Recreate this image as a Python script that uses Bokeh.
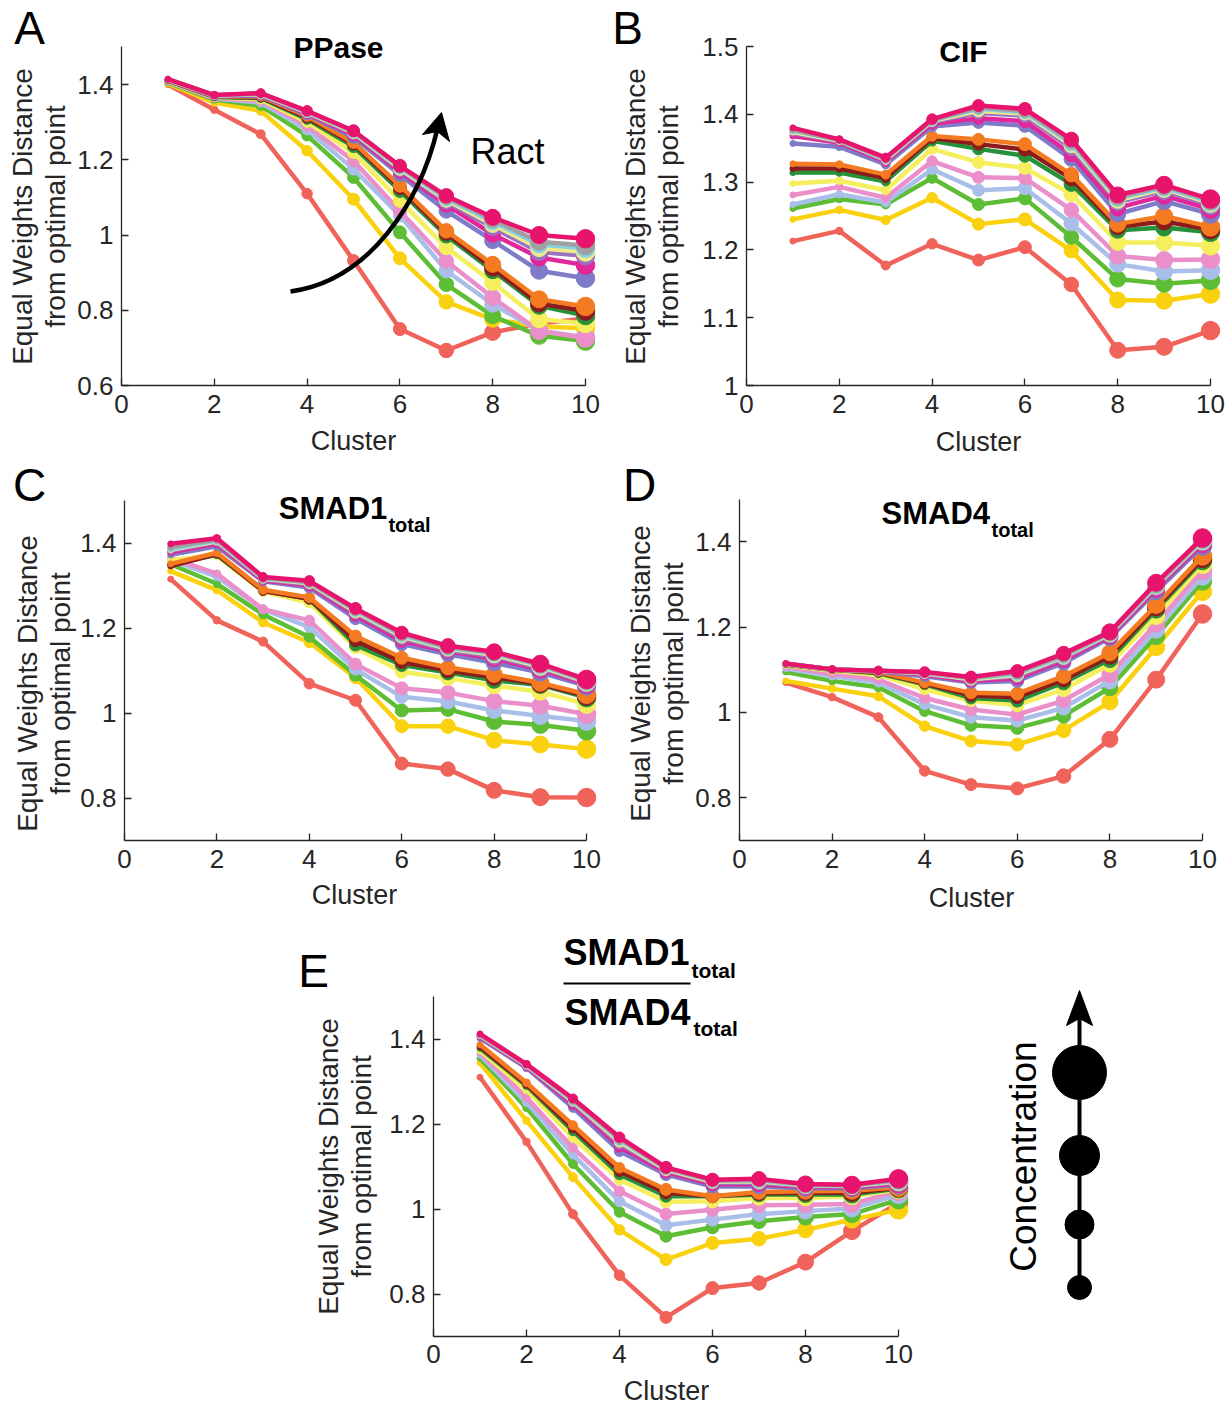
import math
from bokeh.plotting import figure
from bokeh.models import (Range1d, FixedTicker, CustomJSTickFormatter, Label,
                          Arrow, ColumnDataSource, Spacer)
from bokeh.layouts import row, column
from bokeh.embed import file_html
from bokeh.resources import INLINE

# ---------------- data ----------------
CLUSTERS = [1, 2, 3, 4, 5, 6, 7, 8, 9, 10]
X_TICKS = [0, 2, 4, 6, 8, 10]

# one colour per Ract level (low -> high)
COLORS = ["#F0635A", "#F9D10F", "#5DBE35", "#A9BEE8", "#EB8FCB", "#F5EF5E",
          "#25913A", "#8C1C1C", "#F47B21", "#7E7BC8", "#E2279B", "#9A72C0",
          "#F2E98C", "#86D2E3", "#A0A0A0", "#E8136C"]

PPASE = [
    [1.400, 1.333, 1.268, 1.110, 0.932, 0.750, 0.693, 0.741, 0.765, 0.778],
    [1.402, 1.352, 1.330, 1.224, 1.095, 0.938, 0.822, 0.776, 0.757, 0.752],
    [1.405, 1.360, 1.343, 1.264, 1.153, 1.007, 0.869, 0.785, 0.732, 0.718],
    [1.407, 1.363, 1.352, 1.280, 1.175, 1.052, 0.905, 0.816, 0.746, 0.728],
    [1.408, 1.364, 1.356, 1.290, 1.197, 1.064, 0.931, 0.834, 0.745, 0.726],
    [1.409, 1.366, 1.360, 1.300, 1.219, 1.091, 0.967, 0.874, 0.776, 0.765],
    [1.410, 1.367, 1.364, 1.308, 1.235, 1.117, 0.998, 0.905, 0.812, 0.786],
    [1.410, 1.368, 1.366, 1.312, 1.242, 1.125, 1.005, 0.912, 0.818, 0.798],
    [1.411, 1.369, 1.368, 1.316, 1.246, 1.131, 1.011, 0.922, 0.829, 0.810],
    [1.412, 1.369, 1.370, 1.320, 1.260, 1.160, 1.064, 0.985, 0.905, 0.885],
    [1.412, 1.370, 1.372, 1.323, 1.266, 1.168, 1.080, 1.002, 0.940, 0.920],
    [1.413, 1.370, 1.373, 1.325, 1.270, 1.173, 1.088, 1.020, 0.955, 0.945],
    [1.413, 1.371, 1.374, 1.326, 1.272, 1.176, 1.093, 1.028, 0.965, 0.955],
    [1.413, 1.371, 1.375, 1.327, 1.274, 1.179, 1.097, 1.035, 0.975, 0.965],
    [1.414, 1.372, 1.376, 1.329, 1.276, 1.182, 1.101, 1.041, 0.982, 0.972],
    [1.414, 1.372, 1.377, 1.330, 1.277, 1.184, 1.104, 1.047, 1.000, 0.990],
]

CIF = [
    [1.213, 1.228, 1.177, 1.209, 1.185, 1.204, 1.149, 1.052, 1.057, 1.081],
    [1.245, 1.259, 1.244, 1.277, 1.238, 1.245, 1.199, 1.126, 1.125, 1.135],
    [1.261, 1.275, 1.267, 1.306, 1.267, 1.276, 1.219, 1.157, 1.150, 1.155],
    [1.267, 1.282, 1.270, 1.319, 1.288, 1.291, 1.239, 1.179, 1.168, 1.170],
    [1.281, 1.293, 1.277, 1.331, 1.307, 1.306, 1.259, 1.191, 1.185, 1.186],
    [1.298, 1.302, 1.288, 1.349, 1.329, 1.321, 1.282, 1.211, 1.211, 1.206],
    [1.314, 1.314, 1.301, 1.361, 1.349, 1.339, 1.297, 1.229, 1.233, 1.226],
    [1.320, 1.320, 1.306, 1.365, 1.356, 1.348, 1.305, 1.234, 1.242, 1.230],
    [1.327, 1.326, 1.311, 1.368, 1.363, 1.356, 1.311, 1.238, 1.250, 1.234],
    [1.357, 1.352, 1.326, 1.382, 1.388, 1.383, 1.334, 1.253, 1.272, 1.253],
    [1.368, 1.358, 1.330, 1.386, 1.394, 1.390, 1.341, 1.262, 1.280, 1.260],
    [1.372, 1.360, 1.332, 1.389, 1.402, 1.398, 1.350, 1.270, 1.287, 1.266],
    [1.374, 1.361, 1.333, 1.390, 1.405, 1.401, 1.354, 1.273, 1.290, 1.269],
    [1.376, 1.362, 1.334, 1.391, 1.408, 1.403, 1.357, 1.276, 1.292, 1.271],
    [1.377, 1.362, 1.335, 1.392, 1.410, 1.405, 1.360, 1.278, 1.294, 1.273],
    [1.380, 1.363, 1.336, 1.393, 1.413, 1.408, 1.363, 1.281, 1.296, 1.275],
]

SMAD1 = [
    [1.315, 1.218, 1.168, 1.069, 1.030, 0.881, 0.868, 0.818, 0.802, 0.801],
    [1.334, 1.289, 1.213, 1.166, 1.083, 0.969, 0.969, 0.936, 0.926, 0.915],
    [1.350, 1.304, 1.232, 1.179, 1.089, 1.006, 1.009, 0.980, 0.972, 0.958],
    [1.360, 1.320, 1.244, 1.202, 1.103, 1.038, 1.027, 1.006, 0.993, 0.981],
    [1.365, 1.328, 1.244, 1.218, 1.115, 1.058, 1.048, 1.028, 1.017, 0.997],
    [1.360, 1.370, 1.285, 1.260, 1.154, 1.097, 1.082, 1.064, 1.050, 1.021],
    [1.350, 1.372, 1.288, 1.268, 1.160, 1.113, 1.095, 1.077, 1.066, 1.036],
    [1.346, 1.374, 1.287, 1.269, 1.170, 1.120, 1.100, 1.084, 1.068, 1.040],
    [1.351, 1.377, 1.290, 1.272, 1.181, 1.130, 1.107, 1.091, 1.071, 1.044],
    [1.372, 1.392, 1.310, 1.295, 1.222, 1.162, 1.138, 1.118, 1.095, 1.064],
    [1.378, 1.398, 1.312, 1.300, 1.230, 1.170, 1.145, 1.128, 1.102, 1.068],
    [1.382, 1.402, 1.314, 1.303, 1.235, 1.176, 1.148, 1.133, 1.106, 1.071],
    [1.384, 1.404, 1.316, 1.305, 1.238, 1.180, 1.151, 1.137, 1.109, 1.073],
    [1.386, 1.406, 1.317, 1.307, 1.241, 1.183, 1.153, 1.140, 1.112, 1.075],
    [1.390, 1.408, 1.318, 1.308, 1.243, 1.186, 1.155, 1.142, 1.114, 1.077],
    [1.398, 1.411, 1.320, 1.311, 1.246, 1.189, 1.158, 1.144, 1.116, 1.079],
]

SMAD4 = [
    [1.070, 1.036, 0.989, 0.863, 0.831, 0.822, 0.851, 0.937, 1.077, 1.231],
    [1.074, 1.056, 1.038, 0.968, 0.933, 0.925, 0.958, 1.025, 1.153, 1.284],
    [1.095, 1.074, 1.059, 1.003, 0.970, 0.964, 0.992, 1.058, 1.179, 1.308],
    [1.103, 1.085, 1.070, 1.019, 0.989, 0.981, 1.011, 1.074, 1.194, 1.320],
    [1.107, 1.090, 1.077, 1.034, 1.007, 0.995, 1.028, 1.089, 1.208, 1.333],
    [1.110, 1.098, 1.088, 1.054, 1.028, 1.017, 1.054, 1.113, 1.226, 1.347],
    [1.112, 1.100, 1.092, 1.066, 1.034, 1.028, 1.070, 1.124, 1.241, 1.356],
    [1.113, 1.101, 1.094, 1.068, 1.040, 1.036, 1.077, 1.132, 1.246, 1.361],
    [1.113, 1.101, 1.095, 1.070, 1.046, 1.044, 1.085, 1.140, 1.252, 1.367],
    [1.114, 1.101, 1.096, 1.085, 1.070, 1.074, 1.116, 1.175, 1.284, 1.390],
    [1.114, 1.101, 1.097, 1.089, 1.074, 1.080, 1.122, 1.179, 1.290, 1.396],
    [1.114, 1.101, 1.097, 1.091, 1.077, 1.085, 1.127, 1.182, 1.294, 1.400],
    [1.114, 1.101, 1.097, 1.092, 1.078, 1.088, 1.130, 1.184, 1.297, 1.403],
    [1.114, 1.101, 1.098, 1.093, 1.080, 1.091, 1.132, 1.186, 1.299, 1.405],
    [1.114, 1.101, 1.098, 1.094, 1.081, 1.094, 1.135, 1.187, 1.301, 1.407],
    [1.115, 1.101, 1.098, 1.095, 1.083, 1.097, 1.138, 1.189, 1.304, 1.409],
]

RATIO = [
    [1.310, 1.158, 0.988, 0.844, 0.745, 0.814, 0.826, 0.875, 0.948, 1.014],
    [1.344, 1.208, 1.075, 0.951, 0.881, 0.920, 0.930, 0.951, 0.975, 0.998],
    [1.355, 1.238, 1.106, 0.993, 0.936, 0.957, 0.971, 0.981, 0.988, 1.022],
    [1.362, 1.250, 1.128, 1.018, 0.962, 0.975, 0.988, 0.995, 1.001, 1.034],
    [1.368, 1.262, 1.144, 1.042, 0.988, 0.998, 1.009, 1.010, 1.012, 1.042],
    [1.372, 1.280, 1.167, 1.069, 1.017, 1.018, 1.026, 1.026, 1.030, 1.046],
    [1.378, 1.290, 1.183, 1.081, 1.030, 1.030, 1.034, 1.034, 1.034, 1.048],
    [1.382, 1.293, 1.190, 1.089, 1.038, 1.030, 1.037, 1.038, 1.038, 1.050],
    [1.387, 1.297, 1.197, 1.097, 1.046, 1.030, 1.040, 1.042, 1.043, 1.051],
    [1.402, 1.332, 1.238, 1.136, 1.081, 1.053, 1.053, 1.049, 1.049, 1.057],
    [1.405, 1.335, 1.245, 1.146, 1.087, 1.058, 1.058, 1.052, 1.051, 1.060],
    [1.407, 1.337, 1.250, 1.153, 1.091, 1.062, 1.062, 1.054, 1.053, 1.063],
    [1.408, 1.338, 1.253, 1.158, 1.093, 1.064, 1.065, 1.055, 1.054, 1.065],
    [1.409, 1.339, 1.255, 1.162, 1.095, 1.066, 1.067, 1.056, 1.055, 1.067],
    [1.410, 1.340, 1.257, 1.165, 1.096, 1.067, 1.069, 1.057, 1.056, 1.069],
    [1.412, 1.341, 1.260, 1.169, 1.098, 1.069, 1.071, 1.059, 1.057, 1.071],
]

Y_TICKS_A = [0.6, 0.8, 1.0, 1.2, 1.4]
Y_TICKS_B = [1.0, 1.1, 1.2, 1.3, 1.4, 1.5]
Y_TICKS_CDE = [0.8, 1.0, 1.2, 1.4]

CONC_LEVELS = [1, 2, 3, 4]

# ---------------- styles ----------------
FONT = "Liberation Sans"
AX = "#262626"
MARKER_SIZE = [6, 7.5, 9, 10.5, 12, 13, 14.5, 16, 17, 18.5]
CONC_MARKER_SIZE = [24, 29, 40, 54]
YLAB1 = "Equal Weights Distance"
YLAB2 = "from optimal point"


def base_fig(w, h, xr, yr, left=0, right=0, bottom=0, axes=False):
    kw = {} if axes else dict(x_axis_type=None, y_axis_type=None)
    f = figure(width=w, height=h, x_range=xr, y_range=yr,
               min_border_left=left, min_border_right=right,
               min_border_top=0, min_border_bottom=bottom,
               toolbar_location=None, output_backend="svg",
               outline_line_color=None,
               background_fill_color="white", border_fill_color="white", **kw)
    f.xgrid.visible = False
    f.ygrid.visible = False
    return f


def label(f, x, y, txt, size, bold=False, align="center", angle=0.0, color=AX):
    f.add_layout(Label(x=x, y=y, text=txt, text_font=FONT,
                       text_font_size=f"{size}px",
                       text_font_style="bold" if bold else "normal",
                       text_color=color, text_align=align,
                       text_baseline="middle", angle=angle))


class TextFig:
    """Figure whose data coordinates are page pixels (y downward)."""
    def __init__(self, px0, py0, w, h, bottom=0):
        fh = h - bottom
        self.p = base_fig(w, h, Range1d(px0, px0 + w), Range1d(py0 + fh, py0),
                          bottom=bottom)

    def text(self, px, py, txt, size, **kw):
        label(self.p, px, py, txt, size, **kw)

    def ylabels(self, x1, x2, y, letter_xy, letter):
        self.text(letter_xy[0], letter_xy[1], letter, 46, color="black")
        self.text(x1, y, YLAB1, 28, angle=math.pi / 2)
        self.text(x2, y, YLAB2, 28, angle=math.pi / 2)


class Panel:
    def __init__(self, px0, py0, w, h, left, bottom, sx, ylo, ppu, yticks,
                 xstand=9):
        self.px0, self.py0, self.left, self.sx = px0, py0, left, sx
        self.fh = h - bottom
        self.ylo = ylo
        self.yhi = ylo + self.fh / ppu
        fw = round(10.25 * sx)
        right = w - left - fw
        p = base_fig(w, h, Range1d(0, fw / sx), Range1d(self.ylo, self.yhi),
                     left=left, right=right, bottom=bottom, axes=True)
        p.xaxis.ticker = FixedTicker(ticks=X_TICKS)
        p.yaxis.ticker = FixedTicker(ticks=yticks)
        p.xaxis.bounds = (0, 10)
        p.yaxis.bounds = (ylo, 1.5)
        p.yaxis.formatter = CustomJSTickFormatter(
            code="return String(Number(tick.toFixed(2)));")
        for ax in (p.xaxis, p.yaxis):
            ax.axis_line_color = AX
            ax.axis_line_width = 1.3
            ax.major_tick_line_color = AX
            ax.major_tick_line_width = 1.3
            ax.major_tick_in = 7
            ax.major_tick_out = 0
            ax.minor_tick_line_color = None
            ax.major_label_text_font = FONT
            ax.major_label_text_font_size = "26px"
            ax.major_label_text_color = AX
        p.yaxis.major_label_standoff = 8
        p.xaxis.major_label_standoff = xstand
        self.p = p

    def dx(self, px):
        return (px - (self.px0 + self.left)) / self.sx

    def dy(self, py):
        return self.ylo + (self.py0 + self.fh - py) / self.fh * (self.yhi - self.ylo)

    def text(self, px, py, txt, size, **kw):
        label(self.p, self.dx(px), self.dy(py), txt, size, **kw)

    def series(self, data):
        for vals, col in zip(data, COLORS):
            src = ColumnDataSource(dict(x=CLUSTERS, y=vals, s=MARKER_SIZE))
            self.p.line("x", "y", source=src, line_color=col, line_width=4.5)
            self.p.scatter("x", "y", size="s", source=src,
                           fill_color=col, line_color=col)


# ================= row 1 (page y 0..425) =================
H1, BT1 = 425, 40
TA = TextFig(0, 0, 73, H1, bottom=BT1)
TA.ylabels(22, 55, 216, (29, 27), "A")
A = Panel(73, 0, 539, H1, 48, BT1, 46.4, 0.6, 376.25, Y_TICKS_A)
A.series(PPASE)
A.text(338, 47, "PPase", 30, bold=True, color="black")
P0, C1, C2, P3 = (290, 291), (370, 280), (420, 200), (437, 128)
A.p.bezier(x0=[A.dx(P0[0])], y0=[A.dy(P0[1])], x1=[A.dx(P3[0])], y1=[A.dy(P3[1])],
           cx0=[A.dx(C1[0])], cy0=[A.dy(C1[1])], cx1=[A.dx(C2[0])], cy1=[A.dy(C2[1])],
           line_color="black", line_width=4.5)
head = [(441, 112), (449, 141), (437, 131), (422, 134)]
A.p.patch([A.dx(h[0]) for h in head], [A.dy(h[1]) for h in head],
          fill_color="black", line_color="black", line_width=1)
A.text(507, 151, "Ract", 36, color="black")

TB = TextFig(612, 0, 78, H1, bottom=BT1)
TB.ylabels(635, 668, 216, (627, 27), "B")
B = Panel(690, 0, 536, H1, 56, BT1, 46.4, 1.0, 678.0, Y_TICKS_B)
B.series(CIF)
B.text(963, 51, "CIF", 30, bold=True, color="black")

# strip with x labels (page y 425..457)
S1 = TextFig(0, 425, 1226, 32)
S1.text(353, 440, "Cluster", 27)
S1.text(978, 441, "Cluster", 27)

# ================= row 2 (page y 457..880) =================
H2, BT2 = 423, 40
TC = TextFig(0, 457, 77, H2, bottom=BT2)
TC.ylabels(27, 60, 683, (29, 484), "C")
C = Panel(77, 457, 535, H2, 45, BT2, 46.4, 0.7, 425.0, Y_TICKS_CDE)
C.series(SMAD1)
C.text(277, 508, "SMAD1", 31, bold=True, align="left", color="black")
C.text(387, 524, "total", 20, bold=True, align="left", color="black")

TD = TextFig(612, 457, 78, H2, bottom=BT2)
TD.ylabels(640, 673, 673, (639, 484), "D")
D = Panel(690, 457, 536, H2, 49, BT2, 46.3, 0.7, 426.7, Y_TICKS_CDE)
D.series(SMAD4)
D.text(881, 513, "SMAD4", 31, bold=True, align="left", color="black")
D.text(991, 529, "total", 20, bold=True, align="left", color="black")

S2 = TextFig(0, 880, 1226, 38)
S2.text(354, 894, "Cluster", 27)
S2.text(971, 897, "Cluster", 27)

# ================= row 3 (page y 918..1374) =================
H3, BT3 = 456, 38
Y3 = 918
TE = TextFig(290, Y3, 90, H3, bottom=BT3)
TE.ylabels(328, 361, 1166, (313, 970), "E")
E = Panel(380, Y3, 543, H3, 53, BT3, 46.5, 0.7, 425.0, Y_TICKS_CDE, xstand=8)
E.series(RATIO)
E.text(563, 952, "SMAD1", 36, bold=True, align="left", color="black")
E.text(691, 970, "total", 21, bold=True, align="left", color="black")
E.p.add_layout(Arrow(x_start=E.dx(563), y_start=E.dy(983), x_end=E.dx(690),
                     y_end=E.dy(983), start=None, end=None,
                     line_color="black", line_width=2))
E.text(564, 1012, "SMAD4", 36, bold=True, align="left", color="black")
E.text(693, 1028, "total", 21, bold=True, align="left", color="black")

# concentration legend (page coordinates)
LG = TextFig(923, Y3, 303, H3, bottom=BT3)
stem_x = 1079
conc_y = [1287, 1224, 1155, 1072]
LG.p.line([stem_x, stem_x], [conc_y[0], 1012], line_color="black", line_width=4)
LG.p.patch([stem_x, stem_x + 13, stem_x, stem_x - 13], [990, 1025, 1018, 1025],
           fill_color="black", line_color="black")
LG.p.scatter([stem_x] * len(CONC_LEVELS), conc_y, size=CONC_MARKER_SIZE,
             fill_color="black", line_color="black")
LG.text(1023, 1156, "Concentration", 37, angle=math.pi / 2, color="black")

S3 = TextFig(0, 1374, 1226, 32)
S3.text(666, 1390, "Cluster", 27)

layout = column(
    row(TA.p, A.p, TB.p, B.p),
    S1.p,
    row(TC.p, C.p, TD.p, D.p),
    S2.p,
    row(Spacer(width=290, height=H3), TE.p, E.p, LG.p),
    S3.p,
)

open("out.html", "w").write(file_html(layout, INLINE))
